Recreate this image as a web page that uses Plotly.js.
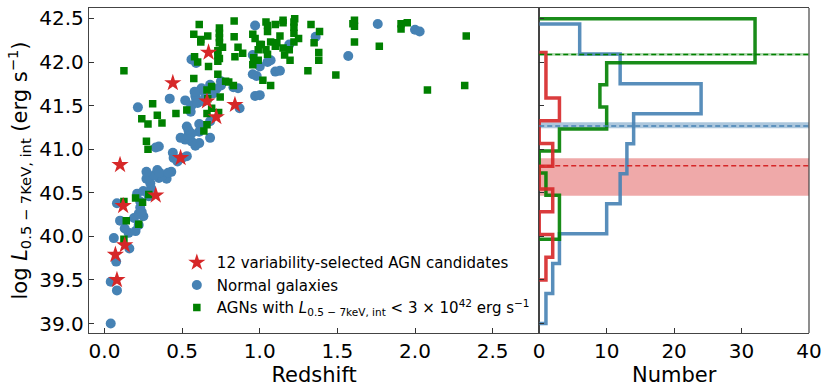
<!DOCTYPE html>
<html>
<head>
<meta charset="utf-8">
<script src="https://cdn.plot.ly/plotly-3.0.1.min.js"></script>
<style>
  html, body { margin: 0; padding: 0; background: #fff; }
  #chart { width: 831px; height: 391px; }
</style>
</head>
<body>
<div id="chart"></div>
<script>
// 12 variability-selected AGN candidates (redshift, log L)
const candZ = [0.08, 0.07, 0.13, 0.12, 0.33, 0.10, 0.49, 0.66, 0.72, 0.84, 0.44, 0.67];
const candL = [39.50, 39.79, 39.90, 40.35, 40.47, 40.82, 40.90, 41.55, 41.37, 41.51, 41.76, 42.11];

// normal galaxies
const normZ = [
  0.04, 0.08, 0.04, 0.075, 0.16, 0.06, 0.155, 0.20, 0.13, 0.22,
  0.10, 0.19, 0.25, 0.22, 0.24, 0.23, 0.08, 0.23, 0.285, 0.21,
  0.25, 0.30, 0.295, 0.27, 0.35, 0.40, 0.37, 0.32, 0.27, 0.34,
  0.43, 0.355, 0.41, 0.445, 0.47, 0.50, 0.53, 0.44, 0.585, 0.35,
  0.33, 0.61, 0.56, 0.52, 0.54, 0.49, 0.68, 0.54, 0.61, 0.56,
  0.54, 0.53, 0.625, 0.61, 0.68, 0.555, 0.215, 0.87, 0.55, 0.42,
  0.52, 0.59, 0.585, 0.56, 0.62, 0.70, 0.625, 0.86, 0.83, 0.97,
  1.00, 0.68, 0.75, 0.60, 0.65, 0.66, 0.72, 0.64, 0.58, 0.75,
  0.98, 0.955, 1.00, 1.10, 1.13, 1.05, 1.07, 0.59, 0.56, 0.955,
  1.57, 0.97, 1.76, 2.00, 2.03, 1.36, 1.19
];
const normL = [
  39.00, 39.38, 39.48, 39.71, 39.86, 39.98, 40.04, 40.06, 40.09, 40.13,
  40.18, 40.21, 40.23, 40.26, 40.28, 40.33, 40.38, 40.40, 40.46, 40.49,
  40.52, 40.55, 40.61, 40.66, 40.67, 40.66, 40.69, 40.70, 40.74, 40.76,
  40.74, 40.73, 40.73, 40.90, 40.86, 40.90, 40.92, 40.96, 41.04, 41.03,
  41.02, 41.07, 41.09, 41.11, 41.13, 41.13, 41.13, 41.16, 41.20, 41.18,
  41.22, 41.26, 41.27, 41.29, 41.32, 41.43, 41.48, 41.47, 41.46, 41.58,
  41.56, 41.58, 41.61, 41.50, 41.68, 41.64, 41.70, 41.70, 41.71, 41.61,
  41.62, 41.74, 41.73, 41.53, 41.60, 41.66, 41.69, 41.55, 41.66, 41.78,
  41.84, 41.86, 41.95, 41.89, 41.90, 42.00, 42.02, 41.99, 42.03, 42.08,
  42.07, 42.42, 42.437, 42.37, 42.35, 42.29, 42.20
];

// AGNs with L < 3e42
const agnZ = [
  0.125, 0.14, 0.22, 0.125, 0.20, 0.245, 0.285, 0.27, 0.28, 0.64,
  0.24, 0.28, 0.34, 0.37, 0.46, 0.53, 0.66, 0.69, 0.735, 0.66,
  0.31, 0.665, 0.745, 0.66, 0.69, 0.83, 1.07, 2.08, 2.32,
  0.125, 0.73, 0.575, 0.78, 1.02, 1.31, 1.49, 0.67, 0.955, 0.80,
  0.62, 0.74, 0.76, 0.89, 0.84, 0.73, 0.73, 0.73, 0.58, 1.07,
  1.00, 1.04, 1.11, 1.19, 1.195, 0.96, 0.99, 1.22, 1.35, 1.38,
  1.38, 1.61, 1.77, 1.16, 1.10, 1.01, 1.15, 0.99, 0.60, 0.74,
  1.05, 0.86,
  0.61, 0.575, 0.665, 0.74, 0.74, 0.74, 0.835, 0.835, 0.955, 0.97,
  1.04, 1.05, 1.10, 1.15, 1.15, 1.22, 1.22, 1.225, 1.22, 1.33,
  1.385, 1.61, 1.61, 1.60, 1.91, 1.95, 1.91, 2.33, 1.25, 1.05,
  0.62, 1.13
];
const agnL = [
  39.966, 40.18, 40.14, 40.40, 40.44, 40.39, 40.48, 41.09, 41.00, 41.21,
  41.35, 41.29, 41.39, 41.30, 41.41, 41.45, 41.41, 41.47, 41.42, 41.28,
  41.52, 41.58, 41.60, 41.68, 41.72, 41.73, 41.73, 41.68, 41.73,
  41.90, 41.86, 41.81, 41.78, 41.79, 41.90, 41.85, 41.95, 41.97, 41.77,
  42.23, 42.22, 42.17, 42.10, 42.06, 42.08, 42.01, 42.13, 42.06, 42.23,
  42.20, 42.14, 42.22, 42.14, 42.02, 42.05, 42.14, 42.23, 42.22, 42.11,
  42.02, 42.23, 42.18, 42.08, 42.18, 42.20, 42.16, 42.02, 42.00, 42.04,
  42.09, 42.17,
  42.43, 42.32, 42.30, 42.39, 42.33, 42.28, 42.47, 42.29, 42.32, 42.27,
  42.46, 42.42, 42.43, 42.48, 42.45, 42.46, 42.33, 42.498, 42.40, 42.43,
  42.35, 42.48, 42.41, 42.44, 42.44, 42.45, 42.38, 42.30, 42.27, 42.35,
  42.26, 42.30
];

// median luminosity of each sample and its uncertainty band
const medLabels = ['cand', 'normal', 'agn'];
const medL = [40.81, 41.265, 42.087];
const medLo = [40.467, 41.24, 42.072];
const medHi = [40.896, 41.31, 42.103];

const RED = '#d62728';
const BLUE = '#4682b4';
const GREEN = '#008000';

// matplotlib-like histtype='step', orientation='horizontal', 10 bins
function stepHist(vals, nb) {
  const lo = Math.min(...vals), hi = Math.max(...vals);
  const w = (hi - lo) / nb;
  const counts = new Array(nb).fill(0);
  vals.forEach(v => {
    let i = Math.floor((v - lo) / w);
    if (i >= nb) i = nb - 1;
    counts[i]++;
  });
  const x = [0], y = [lo];
  counts.forEach((c, i) => {
    x.push(c, c);
    y.push(lo + i * w, lo + (i + 1) * w);
  });
  x.push(0);
  y.push(hi);
  return { x, y };
}

const hNorm = stepHist(normL, 10);
const hAgn = stepHist(agnL, 10);
const hCand = stepHist(candL, 10);

const FONT = 'DejaVu Sans, sans-serif';

const data = [
  {
    type: 'scatter', mode: 'markers', name: 'Normal galaxies',
    x: normZ, y: normL, legendrank: 2,
    marker: { symbol: 'circle', size: 10, color: BLUE },
  },
  {
    type: 'scatter', mode: 'markers',
    name: 'AGNs with <i>L</i><sub>0.5 − 7keV, int</sub> &lt; 3 × 10<sup>42</sup> erg s<sup>−1</sup>',
    x: agnZ, y: agnL, legendrank: 3,
    marker: { symbol: 'square', size: 7.5, color: GREEN },
  },
  {
    type: 'scatter', mode: 'markers', name: '12 variability-selected AGN candidates',
    x: candZ, y: candL, legendrank: 1,
    marker: { symbol: 'star', size: 13, color: RED },
  },
  {
    type: 'scatter', mode: 'lines', x: hNorm.x, y: hNorm.y, xaxis: 'x2', yaxis: 'y2',
    showlegend: false, line: { color: BLUE, width: 3.5 }, opacity: 0.9,
  },
  {
    type: 'scatter', mode: 'lines', x: hAgn.x, y: hAgn.y, xaxis: 'x2', yaxis: 'y2',
    showlegend: false, line: { color: GREEN, width: 3.5 }, opacity: 0.9,
  },
  {
    type: 'scatter', mode: 'lines', x: hCand.x, y: hCand.y, xaxis: 'x2', yaxis: 'y2',
    showlegend: false, line: { color: RED, width: 3.5 }, opacity: 0.9,
  },
];

const bandFill = ['rgba(214,39,40,0.4)', 'rgba(70,130,180,0.45)', 'rgba(0,128,0,0.3)'];
const lineCol = [RED, BLUE, GREEN];
const shapes = [];
medL.forEach((m, i) => {
  shapes.push({
    type: 'rect', xref: 'x2 domain', yref: 'y2', x0: 0, x1: 1,
    y0: medLo[i], y1: medHi[i], fillcolor: bandFill[i], line: { width: 0 }, layer: 'below',
  });
  shapes.push({
    type: 'line', xref: 'x2 domain', yref: 'y2', x0: 0, x1: 1, y0: m, y1: m,
    line: { color: lineCol[i], width: 1.5, dash: '5px,3px' }, layer: 'above',
  });
});

const axisCommon = {
  showline: true, linecolor: '#444', linewidth: 1.2, mirror: true,
  ticks: 'inside', ticklen: 5, tickwidth: 1, tickcolor: '#333',
  showgrid: false, zeroline: false,
  tickfont: { family: FONT, size: 20, color: '#000' },
};

const layout = {
  width: 831, height: 391,
  margin: { l: 89, r: 22, t: 8, b: 58 },
  paper_bgcolor: '#fff', plot_bgcolor: '#fff',
  font: { family: FONT, color: '#000' },
  showlegend: true,
  legend: {
    x: 0.122, y: 0.267, xanchor: 'left', yanchor: 'top',
    bgcolor: 'rgba(0,0,0,0)', font: { family: FONT, size: 15 },
  },
  xaxis: Object.assign({}, axisCommon, {
    domain: [0, 0.6253], range: [-0.1, 2.8], anchor: 'y',
    tickvals: [0, 0.5, 1, 1.5, 2, 2.5], tickformat: '.1f',
    title: { text: 'Redshift', font: { family: FONT, size: 21 }, standoff: 2 },
  }),
  yaxis: Object.assign({}, axisCommon, {
    domain: [0, 1], range: [38.891, 42.62], anchor: 'x',
    tickvals: [39, 39.5, 40, 40.5, 41, 41.5, 42, 42.5], tickformat: '.1f',
    title: {
      text: 'log <i>L</i><sub>0.5 − 7KeV, int</sub> (erg s<sup>−1</sup>)',
      font: { family: FONT, size: 21 }, standoff: 6,
    },
  }),
  xaxis2: Object.assign({}, axisCommon, {
    domain: [0.6253, 1], range: [0, 40], anchor: 'y2',
    tickvals: [0, 10, 20, 30, 40],
    title: { text: 'Number', font: { family: FONT, size: 21 }, standoff: 2 },
  }),
  yaxis2: Object.assign({}, axisCommon, {
    domain: [0, 1], range: [38.891, 42.62], anchor: 'x2', mirror: false,
    tickvals: [39, 39.5, 40, 40.5, 41, 41.5, 42, 42.5], showticklabels: false,
  }),
  shapes: shapes.concat([{
    type: 'line', xref: 'x2 domain', yref: 'y2 domain', x0: 1, x1: 1, y0: 0, y1: 1,
    line: { color: '#444', width: 1.2 }, layer: 'above',
  }]),
};

Plotly.newPlot('chart', data, layout, { displayModeBar: false, staticPlot: true });
</script>
</body>
</html>
